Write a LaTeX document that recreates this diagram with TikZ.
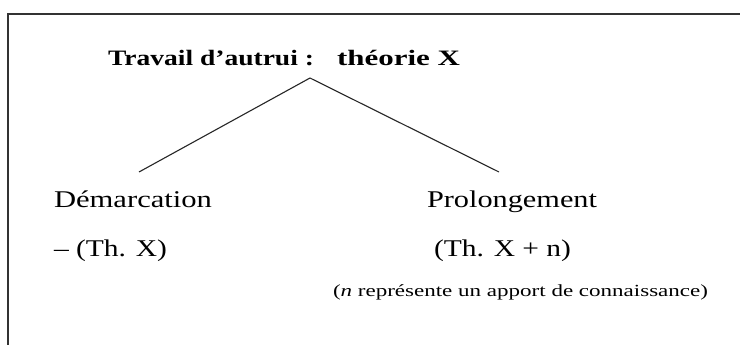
\documentclass[tikz,border=0pt]{standalone}
\usepackage{fontspec}
\usepackage{graphicx}
\setmainfont{Liberation Serif}
\tikzset{
  lbl/.style={inner sep=0pt, outer sep=0pt, anchor=base west},
  branch/.style={line width=1.1pt, draw=black!85},
  frame/.style={line width=1.4pt, draw=black!80}
}
\newcommand{\fitw}[2]{\resizebox{#1}{\height}{#2}}
\begin{document}
\begin{tikzpicture}[x=1pt,y=-1pt]
\useasboundingbox (0,0) rectangle (740,345);
\fill[white] (0,0) rectangle (740,345);
\coordinate (fa) at (8,14);
\coordinate (fb) at (741,14);
\coordinate (fc) at (8,346);
\draw[frame] (fb) -- (fa) -- (fc);
\node[lbl] (title) at (108,66) {\fitw{206pt}{\fontsize{22}{24}\selectfont\bfseries Travail d’autrui :}};
\node[lbl] (theo) at (337,66) {\fitw{123pt}{\fontsize{22}{24}\selectfont\bfseries théorie X}};
\coordinate (apex) at (310,78);
\coordinate (lend) at (139,172);
\coordinate (rend) at (499,172);
\draw[branch] (lend) -- (apex) -- (rend);
\node[lbl] (dem) at (54,207) {\fitw{158pt}{\fontsize{24}{26}\selectfont Démarcation}};
\node[lbl] (pro) at (427,207) {\fitw{170pt}{\fontsize{24}{26}\selectfont Prolongement}};
\node[lbl] (minus) at (54,256) {\fitw{113pt}{\fontsize{24}{26}\selectfont – (Th. X)}};
\node[lbl] (plus) at (434,256) {\fitw{137pt}{\fontsize{24}{26}\selectfont (Th. X + n)}};
\node[lbl] (note) at (333,296) {\fitw{375pt}{\fontsize{17}{19}\selectfont (\textit{n} représente un apport de connaissance)}};
\end{tikzpicture}
\end{document}
